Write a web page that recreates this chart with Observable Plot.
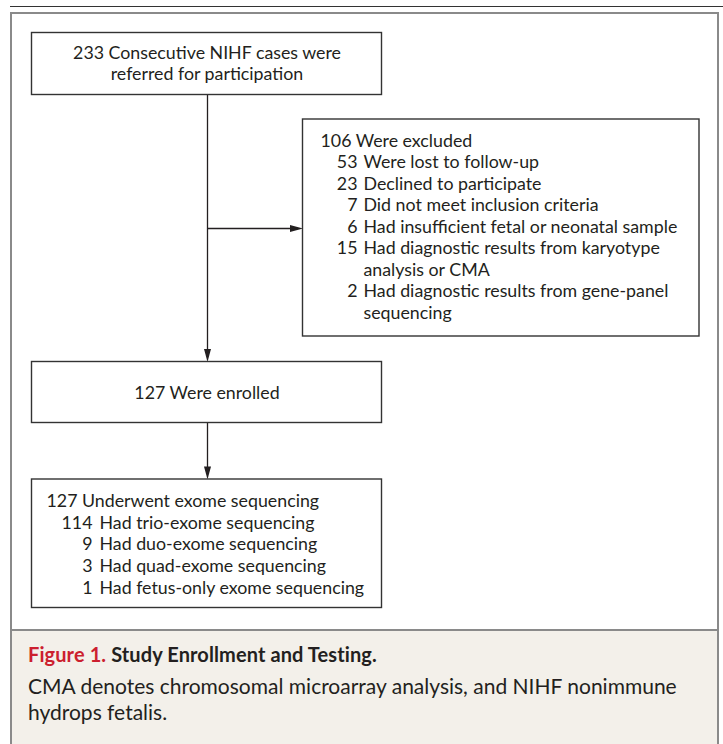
<!DOCTYPE html>
<html><head><meta charset="utf-8">
<script src="https://cdn.jsdelivr.net/npm/d3@7"></script>
<script src="https://cdn.jsdelivr.net/npm/@observablehq/plot@0.6"></script>
<style>
html,body{margin:0;padding:0;background:#fff;}
#page{position:relative;width:723px;height:744px;overflow:hidden;font-family:Lato,"Open Sans",sans-serif;color:#231f20;background:#fff;}
#toprule{position:absolute;left:10px;right:0;top:6px;border-top:1.5px solid #333;}
#chart{position:absolute;left:0;top:0;}
#frame{position:absolute;left:10px;top:12px;width:709px;height:760px;box-sizing:border-box;border:2px solid #8a8a8a;pointer-events:none;}
#caption{position:absolute;left:10px;top:629px;width:709px;height:140px;box-sizing:border-box;background:#f3f0ea;border-top:2px solid #8a8a8a;padding:10px 0 0 18px;white-space:nowrap;}
#caption .title{font-size:20px;line-height:26px;font-weight:700;letter-spacing:0.1px;}
#caption .title .fig{color:#cc1f2f;}
#caption .body{font-size:21px;line-height:26.5px;margin-top:5.5px;}
</style></head>
<body>
<div id="page">
  <div id="toprule"></div>
  <div id="chart"></div>
  <div id="caption">
    <div class="title"><span class="fig" id="capfig"></span> <span id="captitle"></span></div>
    <div class="body" id="capbody"></div>
  </div>
  <div id="frame"></div>
</div>
<script>
// ---- data ----
const referredCount = 233;
const referredLines = ["Consecutive NIHF cases were", "referred for participation"];
const excludedCount = 106;
const excludedLabel = "Were excluded";
const exclusionCounts = [53, 23, 7, 6, 15, 2];
const exclusionReasons = [
  ["Were lost to follow-up"],
  ["Declined to participate"],
  ["Did not meet inclusion criteria"],
  ["Had insufficient fetal or neonatal sample"],
  ["Had diagnostic results from karyotype", "analysis or CMA"],
  ["Had diagnostic results from gene-panel", "sequencing"]
];
const enrolledCount = 127;
const enrolledLabel = "Were enrolled";
const sequencedCount = 127;
const sequencedLabel = "Underwent exome sequencing";
const sequencingCounts = [114, 9, 3, 1];
const sequencingTypes = [
  "Had trio-exome sequencing",
  "Had duo-exome sequencing",
  "Had quad-exome sequencing",
  "Had fetus-only exome sequencing"
];
const captionFigure = "Figure 1.";
const captionTitle = "Study Enrollment and Testing.";
const captionLines = ["CMA denotes chromosomal microarray analysis, and NIHF nonimmune", "hydrops fetalis."];

// ---- layout ----
const W = 723, H = 630;
const LH = 21.5;       // line height
const FIRST = 27;      // box top to first baseline
const layout = {
  referred: {x1: 31.5, x2: 381.5, y1: 32.5, y2: 94.5},
  excluded: {x1: 302.5, x2: 699, y1: 119, y2: 336},
  enrolled: {x1: 31.5, x2: 381.5, y1: 361.5, y2: 422.5},
  sequenced: {x1: 31.5, x2: 381.5, y1: 479, y2: 607.5}
};
const trunkX = 207;
const branchY = 228;
const excl = {headX: 320, numRight: 357, textX: 363};
const seq = {headX: 46, numRight: 92, textX: 99};

const boxes = Object.values(layout);

// texts
const centered = [];
const leftTexts = [];
const rightTexts = [];
const rb = layout.referred;
[`${referredCount} ${referredLines[0]}`, referredLines[1]].forEach((t, i) =>
  centered.push({x: (rb.x1 + rb.x2) / 2, y: rb.y1 + 25.5 + i * 21.8, text: t}));
const eb = layout.enrolled;
centered.push({x: (eb.x1 + eb.x2) / 2, y: (eb.y1 + eb.y2) / 2 + 6, text: `${enrolledCount} ${enrolledLabel}`});

const xb = layout.excluded;
leftTexts.push({x: excl.headX, y: xb.y1 + FIRST, text: `${excludedCount} ${excludedLabel}`});
let line = 1;
exclusionCounts.forEach((n, i) => {
  rightTexts.push({x: excl.numRight, y: xb.y1 + FIRST + line * LH, text: String(n)});
  exclusionReasons[i].forEach((t) => {
    leftTexts.push({x: excl.textX, y: xb.y1 + FIRST + line * LH, text: t});
    line++;
  });
});
const sb = layout.sequenced;
leftTexts.push({x: seq.headX, y: sb.y1 + 27.6, text: `${sequencedCount} ${sequencedLabel}`});
sequencingCounts.forEach((n, i) => {
  const y = sb.y1 + 27.6 + (i + 1) * 21.6;
  rightTexts.push({x: seq.numRight, y, text: String(n)});
  leftTexts.push({x: seq.textX, y, text: sequencingTypes[i]});
});

// connectors (tail -> tip)
const HEAD = 13;
const arrows = [
  {x1: trunkX, y1: rb.y2, x2: trunkX, y2: eb.y1, rotate: 180},
  {x1: trunkX, y1: branchY, x2: xb.x1, y2: branchY, rotate: 90},
  {x1: trunkX, y1: eb.y2, x2: trunkX, y2: sb.y1, rotate: 180}
];
const shafts = arrows.map(a => ({
  x1: a.x1, y1: a.y1,
  x2: a.x2 - (a.rotate === 90 ? HEAD - 1 : 0),
  y2: a.y2 - (a.rotate === 180 ? HEAD - 1 : 0)
}));
const arrowHead = {
  draw(context) {
    const L = HEAD, w = 3.5;
    context.moveTo(0, 0);
    context.lineTo(w, L);
    context.lineTo(-w, L);
    context.closePath();
  }
};

const font = {fontFamily: "Lato, 'Open Sans', sans-serif", fontSize: 17.8, fill: "#231f20", lineAnchor: "bottom"};

const chart = Plot.plot({
  width: W, height: H,
  margin: 0,
  x: {domain: [0, W], range: [0, W], axis: null},
  y: {domain: [0, H], range: [0, H], axis: null},
  style: {background: "transparent", overflow: "visible"},
  marks: [
    Plot.link(shafts, {x1: "x1", y1: "y1", x2: "x2", y2: "y2", stroke: "#231f20", strokeWidth: 1.3}),
    Plot.dot(arrows, {x: "x2", y: "y2", symbol: arrowHead, rotate: "rotate", fill: "#231f20", stroke: "none", r: 5}),
    Plot.rect(boxes, {x1: "x1", x2: "x2", y1: "y1", y2: "y2", fill: "white", stroke: "#333", strokeWidth: 1.4}),
    Plot.text(centered, {x: "x", y: "y", text: "text", textAnchor: "middle", ...font}),
    Plot.text(leftTexts, {x: "x", y: "y", text: "text", textAnchor: "start", ...font}),
    Plot.text(rightTexts, {x: "x", y: "y", text: "text", textAnchor: "end", ...font})
  ]
});
document.getElementById("chart").appendChild(chart);
document.getElementById("capfig").textContent = captionFigure;
document.getElementById("captitle").textContent = captionTitle;
document.getElementById("capbody").innerHTML = captionLines.map(s => s.replace(/&/g, "&amp;").replace(/</g, "&lt;")).join("<br>");
</script>
</body></html>
